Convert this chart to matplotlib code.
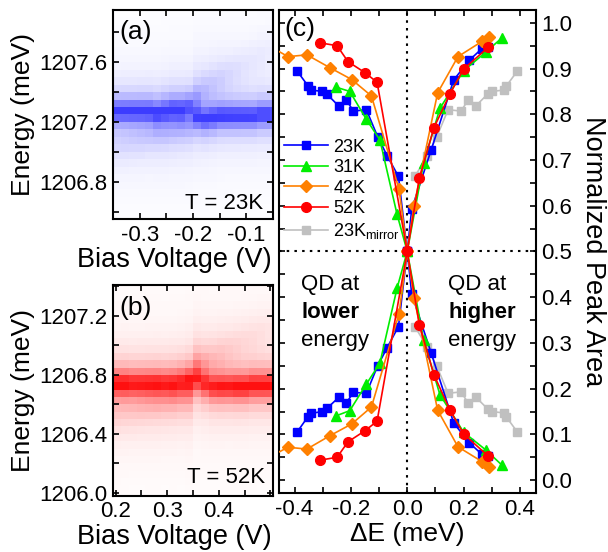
import numpy as np
import matplotlib
matplotlib.use("Agg")
import matplotlib.pyplot as plt
from matplotlib.colors import LinearSegmentedColormap
from matplotlib.ticker import MultipleLocator

plt.rcParams['font.family'] = ['Liberation Sans', 'DejaVu Sans']
plt.rcParams['mathtext.fontset'] = 'custom'
plt.rcParams['mathtext.rm'] = 'Liberation Sans'

# ---- panel (a): 23K map, per-column line parameters
a_volt = [-0.3425, -0.3275, -0.3125, -0.2975, -0.2825, -0.2675, -0.2525, -0.2375, -0.2225, -0.2075,
          -0.1925, -0.1775, -0.1625, -0.1475, -0.1325, -0.1175, -0.1025, -0.0875, -0.0725, -0.0575]
a_e1 = [1207.27, 1207.27, 1207.27, 1207.27, 1207.27, 1207.26, 1207.27, 1207.28, 1207.28, 1207.30,
        1207.23, 1207.22, 1207.23, 1207.24, 1207.24, 1207.24, 1207.24, 1207.24, 1207.25, 1207.25]
a_i1 = [1.0, 1.0, 1.0, 1.0, 1.0, 1.0, 1.0, 1.0, 0.95, 0.75,
        0.85, 0.95, 1.0, 1.0, 1.0, 1.0, 1.0, 1.0, 1.0, 1.0]
a_e2 = [1207.04, 1207.05, 1207.07, 1207.08, 1207.10, 1207.12, 1207.13, 1207.15, 1207.17, 1207.19,
        1207.36, 1207.42, 1207.46, 1207.50, 1207.53, 1207.56, 1207.59, 1207.62, 1207.65, 1207.68]
a_i2 = [0.12, 0.13, 0.14, 0.15, 0.16, 0.18, 0.2, 0.22, 0.25, 0.35,
        0.35, 0.25, 0.2, 0.17, 0.14, 0.12, 0.1, 0.09, 0.08, 0.07]

# ---- panel (b): 52K map
b_volt = [0.2028, 0.2183, 0.2338, 0.2493, 0.2648, 0.2803, 0.2958, 0.3113, 0.3268, 0.3423,
          0.3578, 0.3733, 0.3888, 0.4043, 0.4198, 0.4353, 0.4508, 0.4663, 0.4818, 0.4973]
b_e1 = [1206.74, 1206.74, 1206.74, 1206.74, 1206.74, 1206.74, 1206.74, 1206.74, 1206.75, 1206.76,
        1206.77, 1206.74, 1206.72, 1206.72, 1206.72, 1206.72, 1206.72, 1206.73, 1206.73, 1206.73]
b_i1 = [1.0, 1.0, 0.95, 0.95, 0.95, 0.95, 0.9, 0.9, 0.85, 0.85,
        0.8, 0.85, 0.9, 0.95, 0.95, 1.0, 1.0, 1.0, 1.0, 1.0]
b_e2 = [1206.52, 1206.54, 1206.55, 1206.57, 1206.59, 1206.60, 1206.62, 1206.64, 1206.66, 1206.68,
        1206.86, 1206.89, 1206.92, 1206.95, 1206.98, 1207.01, 1207.04, 1207.07, 1207.10, 1207.13]
b_i2 = [0.1, 0.1, 0.11, 0.12, 0.13, 0.14, 0.15, 0.17, 0.2, 0.25,
        0.25, 0.2, 0.17, 0.15, 0.13, 0.11, 0.1, 0.09, 0.08, 0.07]

# ---- panel (c): normalized peak area vs detuning
# "a" branch: upper-left -> centre -> lower-right, "b" branch: lower-left -> centre -> upper-right
k23_x = [-0.390, -0.352, -0.343, -0.301, -0.285, -0.243, -0.217, -0.191, -0.145, -0.105, -0.071, -0.031,
         0.0, 0.016, 0.085, 0.165, 0.220, 0.264, 0.286]
k23_a = [0.894, 0.862, 0.853, 0.850, 0.844, 0.818, 0.832, 0.807, 0.810, 0.751, 0.709, 0.664,
         0.5, 0.407, 0.278, 0.125, 0.082, 0.057, 0.052]
k23_b = [0.106, 0.139, 0.146, 0.150, 0.157, 0.181, 0.168, 0.192, 0.190, 0.250, 0.290, 0.336,
         0.5, 0.593, 0.722, 0.875, 0.918, 0.943, 0.948]

k31_x = [-0.251, -0.204, -0.145, -0.097, -0.036, 0.0, 0.058, 0.116, 0.200, 0.279, 0.336]
k31_a = [0.859, 0.850, 0.789, 0.744, 0.581, 0.5, 0.307, 0.187, 0.105, 0.066, 0.033]
k31_b = [0.141, 0.152, 0.210, 0.256, 0.420, 0.5, 0.693, 0.813, 0.895, 0.936, 0.967]

k42_x = [-0.50, -0.423, -0.356, -0.275, -0.197, -0.127, -0.029, 0.0, 0.024, 0.108, 0.180, 0.267, 0.290]
k42_a = [0.953, 0.926, 0.930, 0.902, 0.876, 0.840, 0.636, 0.5, 0.399, 0.153, 0.073, 0.040, 0.029]
k42_b = [0.047, 0.072, 0.068, 0.097, 0.123, 0.160, 0.364, 0.5, 0.600, 0.847, 0.926, 0.960, 0.970]

k52_x = [-0.308, -0.249, -0.210, -0.150, -0.107, 0.0, 0.043, 0.095, 0.152, 0.200, 0.287]
k52_a = [0.956, 0.950, 0.915, 0.891, 0.870, 0.5, 0.340, 0.230, 0.153, 0.101, 0.053]
k52_b = [0.044, 0.050, 0.084, 0.108, 0.129, 0.5, 0.660, 0.771, 0.845, 0.899, 0.946]

mir_x = [0.027, 0.071, 0.105, 0.145, 0.191, 0.217, 0.243, 0.285, 0.301, 0.343, 0.352, 0.390]
mir_hi = [0.664, 0.709, 0.751, 0.810, 0.807, 0.832, 0.818, 0.844, 0.850, 0.853, 0.862, 0.894]
mir_lo = [0.336, 0.291, 0.249, 0.190, 0.193, 0.168, 0.182, 0.156, 0.150, 0.147, 0.138, 0.106]


def spectral_map(volt, e1, i1, e2, i2, e_lo, e_hi, de, gam):
    v = np.array(volt)
    dv = v[1] - v[0]
    v_edges = np.append(v - dv / 2, v[-1] + dv / 2)
    e_edges = np.arange(e_lo, e_hi + de / 2, de)
    ec = (e_edges[:-1] + e_edges[1:]) / 2
    z = np.zeros((len(ec), len(v)))
    for j in range(len(v)):
        z[:, j] = (i1[j] / (1 + ((ec - e1[j]) / gam) ** 2)
                   + i2[j] / (1 + ((ec - e2[j]) / (1.5 * gam)) ** 2))
    return v_edges, e_edges, z


def style_axes(ax):
    for s in ax.spines.values():
        s.set_linewidth(1.5)
    ax.tick_params(which='both', direction='in', top=True, right=True,
                   length=4, width=1.2, labelsize=16, pad=4)


fig = plt.figure(figsize=(6.08, 5.52), dpi=100)
ax_a = fig.add_axes([0.1859, 0.6033, 0.2632, 0.3786])
ax_b = fig.add_axes([0.1859, 0.1020, 0.2632, 0.3817])
ax_c = fig.add_axes([0.4589, 0.1069, 0.4227, 0.8750])

blues = LinearSegmentedColormap.from_list('wb', ['#ffffff', '#3c3cff'])
reds = LinearSegmentedColormap.from_list('wr', ['#ffffff', '#ff1010'])

xe, ye, z = spectral_map(a_volt, a_e1, a_i1, a_e2, a_i2, 1206.5, 1208.0, 0.05, 0.075)
ax_a.pcolormesh(xe, ye, z, cmap=blues, vmin=0, vmax=1.0)
ax_a.set_xlim(-0.35, -0.05)
ax_a.set_ylim(1206.55, 1207.95)
ax_a.xaxis.set_minor_locator(MultipleLocator(0.05))
ax_a.yaxis.set_minor_locator(MultipleLocator(0.2))
ax_a.set_xticks([-0.3, -0.2, -0.1])
ax_a.set_xticklabels(['-0.3', '-0.2', '-0.1'])
ax_a.set_yticks([1206.8, 1207.2, 1207.6])
ax_a.set_yticklabels(['1206.8', '1207.2', '1207.6'])
style_axes(ax_a)
ax_a.set_xlabel('Bias Voltage (V)', fontsize=19.5)
ax_a.xaxis.set_label_coords(0.38, -0.135)
ax_a.set_ylabel('Energy (meV)', fontsize=19)
ax_a.yaxis.set_label_coords(-0.49, 0.5)
ax_a.text(0.04, 0.95, '(a)', transform=ax_a.transAxes, fontsize=19, va='top', ha='left')
ax_a.text(0.94, 0.05, 'T = 23K', transform=ax_a.transAxes, fontsize=16, va='baseline', ha='right')

xe, ye, z = spectral_map(b_volt, b_e1, b_i1, b_e2, b_i2, 1205.95, 1207.45, 0.05, 0.085)
ax_b.pcolormesh(xe, ye, z, cmap=reds, vmin=0, vmax=1.0)
ax_b.set_xlim(0.195, 0.505)
ax_b.set_ylim(1205.98, 1207.41)
ax_b.xaxis.set_minor_locator(MultipleLocator(0.05))
ax_b.yaxis.set_minor_locator(MultipleLocator(0.2))
ax_b.set_xticks([0.2, 0.3, 0.4])
ax_b.set_xticklabels(['0.2', '0.3', '0.4'])
ax_b.set_yticks([1206.0, 1206.4, 1206.8, 1207.2])
ax_b.set_yticklabels(['1206.0', '1206.4', '1206.8', '1207.2'])
style_axes(ax_b)
ax_b.set_xlabel('Bias Voltage (V)', fontsize=19.5)
ax_b.xaxis.set_label_coords(0.38, -0.135)
ax_b.set_ylabel('Energy (meV)', fontsize=19)
ax_b.yaxis.set_label_coords(-0.49, 0.5)
ax_b.text(0.04, 0.95, '(b)', transform=ax_b.transAxes, fontsize=19, va='top', ha='left')
ax_b.text(0.95, 0.06, 'T = 52K', transform=ax_b.transAxes, fontsize=16, va='baseline', ha='right')

# panel (c)
ax_c.axvline(0, color='black', ls=(0, (1.2, 2.5)), lw=1.5, zorder=1)
ax_c.axhline(0.5, color='black', ls=(0, (1.2, 2.5)), lw=1.5, zorder=1)

series = [
    (k23_x, k23_a, k23_b, '#0000ff', 's', 6.0, '23K'),
    (k31_x, k31_a, k31_b, '#00ee00', '^', 7.5, '31K'),
    (k42_x, k42_a, k42_b, '#ff8000', 'D', 6.5, '42K'),
    (k52_x, k52_a, k52_b, '#ff0000', 'o', 7.0, '52K'),
]
handles = []
for i, (x, ya, yb, col, mk, ms, lab) in enumerate(series):
    h, = ax_c.plot(x, ya, color=col, marker=mk, ms=ms, lw=1.2, zorder=3 + i, label=lab)
    ax_c.plot(x, yb, color=col, marker=mk, ms=ms, lw=1.2, zorder=3 + i)
    handles.append(h)
h, = ax_c.plot(mir_x, mir_hi, color='#c0c0c0', marker='s', ms=6.0, lw=1.2, zorder=2,
               label=r'23K$_{\mathregular{mirror}}$')
ax_c.plot(mir_x, mir_lo, color='#c0c0c0', marker='s', ms=6.0, lw=1.2, zorder=2)
handles.append(h)

ax_c.set_xlim(-0.455, 0.457)
ax_c.set_ylim(-0.028, 1.028)
ax_c.set_xticks([-0.4, -0.2, 0.0, 0.2, 0.4])
ax_c.set_xticklabels(['-0.4', '-0.2', '0.0', '0.2', '0.4'])
ax_c.xaxis.set_minor_locator(MultipleLocator(0.1))
ax_c.set_yticks(np.arange(0, 1.01, 0.1))
ax_c.yaxis.set_minor_locator(MultipleLocator(0.05))
style_axes(ax_c)
ax_c.tick_params(axis='y', which='both', labelleft=False, labelright=True)
ax_c.set_xlabel('\u0394E (meV)', fontsize=19, labelpad=2)
ax_c.yaxis.set_label_position('right')
ax_c.set_ylabel('Normalized Peak Area', fontsize=19.5, rotation=270, labelpad=24)
ax_c.text(0.02, 0.985, '(c)', transform=ax_c.transAxes, fontsize=19, va='top', ha='left')

leg = ax_c.legend(handles=handles, loc='upper left', bbox_to_anchor=(0.0, 0.745),
                  frameon=False, fontsize=13, handlelength=2.4, handletextpad=0.3,
                  labelspacing=0.2, borderpad=0.1, borderaxespad=0.2)

for x0, word in [(-0.376, 'lower'), (0.146, 'higher')]:
    ax_c.text(x0, 0.427, 'QD at', fontsize=16, ha='left', va='center')
    ax_c.text(x0, 0.366, word, fontsize=16, ha='left', va='center', fontweight='bold')
    ax_c.text(x0, 0.306, 'energy', fontsize=16, ha='left', va='center')

fig.savefig('out.png', dpi=100)
